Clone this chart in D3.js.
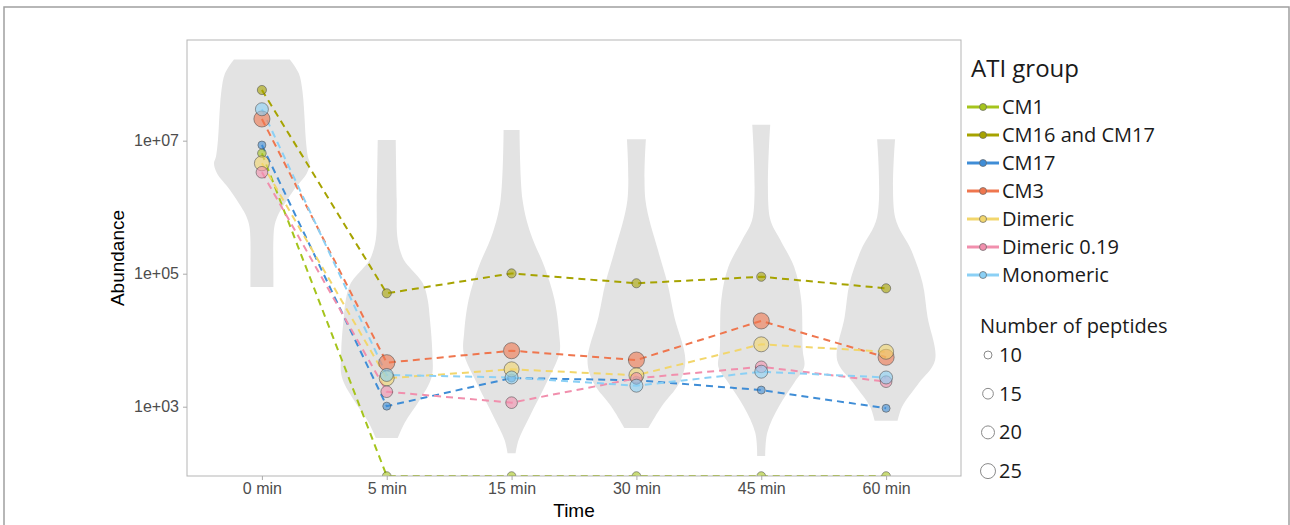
<!DOCTYPE html>
<html>
<head>
<meta charset="utf-8">
<script src="https://cdn.jsdelivr.net/npm/d3@7"></script>
<style>
  body { margin: 0; background: #fff; }
  #chart { width: 1290px; height: 525px; }
</style>
</head>
<body>
<div id="chart"></div>
<script>
/////////////////////
// Data
/////////////////////
const times = ["0 min", "5 min", "15 min", "30 min", "45 min", "60 min"];
const groups = ["CM1", "CM16 and CM17", "CM17", "CM3", "Dimeric", "Dimeric 0.19", "Monomeric"];
const groupColors = ["#a5c41c", "#a6a300", "#3f8dd6", "#ef764e", "#f2d66c", "#f18fad", "#8bd0f5"];
const peptides = [11, 12, 10, 28, 25, 17, 20];

// abundance per time point (0 = below detection, drawn at panel floor)
const cm1       = [6.46e6, 0, 0, 0, 0, 0];
const cm16cm17  = [5.78e7, 5.07e4, 1.01e5, 7.18e4, 9.0e4, 6.03e4];
const cm17      = [8.6e6, 1.02e3, 2.7e3, 2.5e3, 1.78e3, 946];
const cm3       = [2.12e7, 4.59e3, 6.95e3, 5.03e3, 1.95e4, 5.53e3];
const dimeric   = [4.57e6, 2.67e3, 3.65e3, 2.97e3, 8.67e3, 6.7e3];
const dimeric19 = [3.35e6, 1.68e3, 1.15e3, 2.67e3, 3.98e3, 2.38e3];
const monomeric = [2.97e7, 3.0e3, 2.75e3, 2.07e3, 3.36e3, 2.75e3];

// violin outlines: [log10 abundance, relative density]
const violin0  = [[8.22,.56],[8.01,.74],[7.76,.81],[7.51,.84],[7.26,.86],[7.01,.88],[6.76,.92],[6.66,.96],[6.51,.90],[6.26,.64],[6.01,.42],[5.86,.31],[5.71,.25],[5.51,.23],[5.01,.23],[4.80,.23]];
const violin5  = [[7.01,.18],[6.11,.20],[5.51,.22],[5.21,.34],[5.06,.50],[4.86,.72],[4.61,.82],[4.35,.86],[3.86,.91],[3.45,.90],[3.10,.66],[2.76,.36],[2.53,.22]];
const violin15 = [[7.16,.16],[6.11,.22],[5.61,.38],[5.10,.66],[4.61,.86],[4.11,.95],[3.81,.96],[3.36,.70],[2.85,.36],[2.50,.14],[2.30,.08]];
const violin30 = [[7.02,.19],[6.11,.18],[5.36,.43],[4.86,.62],[4.35,.76],[3.70,.98],[3.36,.86],[3.00,.50],[2.68,.24]];
const violin45 = [[7.24,.18],[5.85,.17],[5.51,.38],[5.10,.66],[4.61,.80],[3.85,.83],[3.60,.86],[3.36,.66],[3.00,.35],[2.61,.12],[2.26,.08]];
const violin60 = [[7.02,.18],[5.85,.18],[5.36,.50],[4.86,.73],[4.35,.83],[3.70,.98],[3.36,.66],[3.00,.32],[2.79,.23]];

const yTicks = [1e3, 1e5, 1e7];
const yTickLabels = ["1e+03", "1e+05", "1e+07"];
const sizeBreaks = [10, 15, 20, 25];

const seriesValues = [cm1, cm16cm17, cm17, cm3, dimeric, dimeric19, monomeric];
const violins = [violin0, violin5, violin15, violin30, violin45, violin60];

/////////////////////
// Dimensions
/////////////////////
const panel = { left: 187, top: 40, width: 774, height: 436 };

const svg = d3.select("#chart")
  .append("svg")
  .attr("width", 1290)
  .attr("height", 525);

// outer frame of the figure
svg.append("path")
  .attr("d", "M4,525 V7 H1289 V525")
  .attr("fill", "none")
  .attr("stroke", "#a0a0a0")
  .attr("stroke-width", 1.5);

const g = svg.append("g")
  .attr("transform", `translate(${panel.left}, ${panel.top})`);

///////////////////////////
// Scales
///////////////////////////
const xScale = d3.scalePoint()
  .domain(times)
  .range([0, panel.width])
  .padding(0.6);

const yScale = d3.scaleLog()
  .domain([Math.pow(10, 1.958), Math.pow(10, 8.514)])
  .range([panel.height, 0]);

const yPos = v => v > 0 ? yScale(v) : panel.height;

const color = d3.scaleOrdinal().domain(groups).range(groupColors);

const sizeScale = d3.scalePow().exponent(0.5)
  .domain([10, 25])
  .range([4, 7.5]);

const halfWidth = d3.scaleLinear()
  .domain([0, 1])
  .range([0, xScale.step() * 0.4]);

g.append("clipPath")
  .attr("id", "panel-clip")
  .append("rect")
  .attr("width", panel.width)
  .attr("height", panel.height);

const inner = g.append("g").attr("clip-path", "url(#panel-clip)");

///////////////////////////
// Violins
///////////////////////////
violins.forEach((v, i) => {
  const cx = xScale(times[i]);
  const area = d3.area()
    .y(d => yScale(Math.pow(10, d[0])))
    .x0(d => cx - halfWidth(d[1]))
    .x1(d => cx + halfWidth(d[1]))
    .curve(d3.curveCatmullRom.alpha(0.5));
  inner.append("path")
    .datum(v)
    .attr("d", area)
    .attr("fill", "#e3e3e3");
});

///////////////////////////
// Lines and points
///////////////////////////
const series = groups.map((name, i) => ({
  name,
  peptides: peptides[i],
  values: seriesValues[i].map((v, j) => ({ time: times[j], value: v }))
}));

const line = d3.line()
  .x(d => xScale(d.time))
  .y(d => yPos(d.value));

inner.append("g")
  .selectAll("path")
  .data(series)
  .join("path")
  .attr("d", d => line(d.values))
  .attr("fill", "none")
  .attr("stroke", d => color(d.name))
  .attr("stroke-width", 2)
  .attr("stroke-dasharray", "7,5");

series.forEach(s => {
  inner.append("g")
    .selectAll("circle")
    .data(s.values)
    .join("circle")
    .attr("cx", d => xScale(d.time))
    .attr("cy", d => yPos(d.value))
    .attr("r", sizeScale(s.peptides))
    .attr("fill", color(s.name))
    .attr("fill-opacity", 0.6)
    .attr("stroke", "#4a4a4a")
    .attr("stroke-opacity", 0.55)
    .attr("stroke-width", 1);
});

// panel border
g.append("rect")
  .attr("width", panel.width)
  .attr("height", panel.height)
  .attr("fill", "none")
  .attr("stroke", "#b5b5b5")
  .attr("stroke-width", 1);

///////////////////////////
// Axes
///////////////////////////
const xAxis = g.append("g")
  .attr("transform", `translate(0, ${panel.height})`)
  .call(d3.axisBottom(xScale).tickSize(4).tickPadding(3));

const yAxis = g.append("g")
  .call(d3.axisLeft(yScale)
    .tickValues(yTicks)
    .tickFormat((d, i) => yTickLabels[i])
    .tickSize(4)
    .tickPadding(4));

[xAxis, yAxis].forEach(ax => {
  ax.select(".domain").remove();
  ax.selectAll("line").attr("stroke", "#aaaaaa");
  ax.selectAll("text")
    .attr("fill", "#4d4d4d")
    .style("font-family", "'Liberation Sans', Arial, sans-serif")
    .style("font-size", "16px");
});

svg.append("text")
  .attr("x", panel.left + panel.width / 2)
  .attr("y", 517)
  .attr("text-anchor", "middle")
  .style("font-family", "'Liberation Sans', Arial, sans-serif")
  .style("font-size", "19px")
  .text("Time");

svg.append("text")
  .attr("transform", `translate(124, ${panel.top + panel.height / 2}) rotate(-90)`)
  .attr("text-anchor", "middle")
  .style("font-family", "'Liberation Sans', Arial, sans-serif")
  .style("font-size", "19px")
  .text("Abundance");

///////////////////////////
// Legends
///////////////////////////
const legendFont = "'Open Sans', 'Noto Sans', sans-serif";

svg.append("text")
  .attr("x", 971)
  .attr("y", 77)
  .style("font-family", legendFont)
  .style("font-size", "24px")
  .attr("fill", "#1a1a1a")
  .text("ATI group");

const legendItems = svg.append("g")
  .selectAll("g")
  .data(groups)
  .join("g")
  .attr("transform", (d, i) => `translate(967, ${107 + i * 28})`);

legendItems.append("line")
  .attr("x1", 0).attr("x2", 32)
  .attr("stroke", d => color(d))
  .attr("stroke-width", 3);

legendItems.append("circle")
  .attr("cx", 16)
  .attr("r", 3.5)
  .attr("fill", d => color(d))
  .attr("stroke", "#666")
  .attr("stroke-opacity", 0.7);

legendItems.append("text")
  .attr("x", 35)
  .attr("dy", "0.35em")
  .style("font-family", legendFont)
  .style("font-size", "20px")
  .attr("fill", "#1a1a1a")
  .text(d => d);

svg.append("text")
  .attr("x", 980)
  .attr("y", 333)
  .style("font-family", legendFont)
  .style("font-size", "20px")
  .attr("fill", "#1a1a1a")
  .text("Number of peptides");

const sizeItems = svg.append("g")
  .selectAll("g")
  .data(sizeBreaks)
  .join("g")
  .attr("transform", (d, i) => `translate(988, ${355 + i * 38.7})`);

sizeItems.append("circle")
  .attr("r", d => sizeScale(d))
  .attr("fill", "none")
  .attr("stroke", "#8a8a8a")
  .attr("stroke-width", 1);

sizeItems.append("text")
  .attr("x", 11)
  .attr("dy", "0.35em")
  .style("font-family", legendFont)
  .style("font-size", "20px")
  .attr("fill", "#1a1a1a")
  .text(d => d);
</script>
</body>
</html>
